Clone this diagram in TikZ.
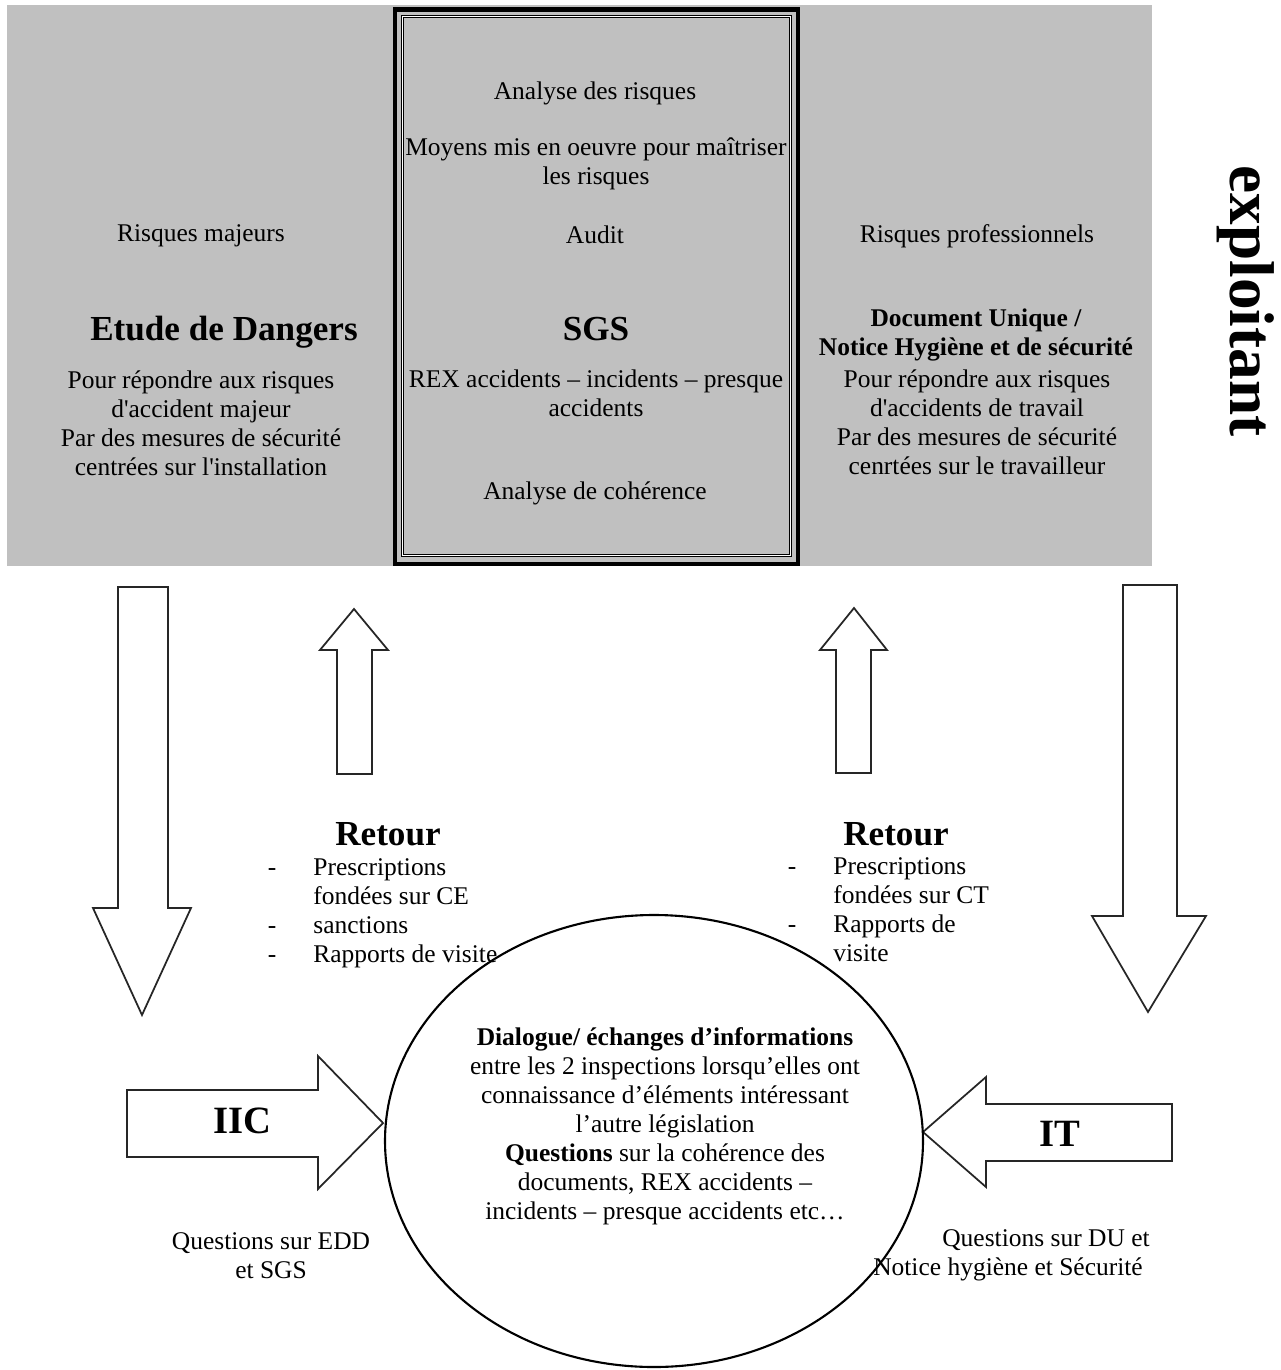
\documentclass[tikz,border=0pt]{standalone}
\usepackage{fontspec}
\setmainfont{Liberation Serif}[Ligatures=TeXOff]
\usepackage{tikz}
\usetikzlibrary{calc}
\tikzset{>=latex}
\definecolor{bandgray}{RGB}{192, 192, 192}
\tikzset{
  txt/.style = {inner sep=0pt, align=center, font=\fontsize{14.5}{16.5}\selectfont},
  bigtxt/.style = {inner sep=0pt, font=\fontsize{20}{24}\selectfont\bfseries},
  blockarrow/.style = {draw=black!85, line width=1pt, fill=white, line join=miter}
}

\begin{document}
\begin{tikzpicture}[x=0.02cm, y=-0.02cm]
\useasboundingbox (0,0) rectangle (1281,1370);
% bande exploitant
\fill[bandgray] (7,5) rectangle (1152,566);
\draw[line width = 2.8pt] (395,9.5) rectangle (798,564);
\draw[double, double distance = 1.1pt, line width = 0.45pt] (402.5,16.5) rectangle (790.5,555.5);

\node[txt] (rmaj) at (201,236) {Risques majeurs};
\node[bigtxt, anchor = base] (edd) at (224,340) {Etude de Dangers};
\node[txt] (eddtxt) at (201,423.5) {Pour répondre aux risques\\d'accident majeur\\Par des mesures de sécurité\\centrées sur l'installation};

\node[txt] (ar) at (595,93) {Analyse des risques};
\node[txt] (moy) at (596,164) {Moyens mis en oeuvre pour maîtriser\\les risques};
\node[txt] (audit) at (595,235) {Audit};
\node[bigtxt, anchor = base] (sgs) at (596,340) {SGS};
\node[txt] (rex) at (596,393) {REX accidents – incidents – presque\\accidents};
\node[txt] (coh) at (595,493) {Analyse de cohérence};

\node[txt] (rpro) at (977,236) {Risques professionnels};
\node[txt, font = \fontsize{14.5}{16.5}\selectfont\bfseries] (du) at (976,335) {Document Unique /\\Notice Hygiène et de sécurité};
\node[txt] (dutxt) at (977,422) {Pour répondre aux risques\\d'accidents de travail\\Par des mesures de sécurité\\cenrtées sur le travailleur};

\node[inner sep = 0pt, rotate = -90, font = \fontsize{36}{40}\selectfont\bfseries] (expl) at (1246,301) {exploitant};

% fleches
\draw[blockarrow] (118,587) -- (168,587) -- (168,908) -- (191,908) -- (142,1015) -- (93,908) -- (118,908) -- cycle;
\draw[blockarrow] (337,774) -- (372,774) -- (372,650) -- (388,650) -- (354,609) -- (320,650) -- (337,650) -- cycle;
\draw[blockarrow] (836,773) -- (871,773) -- (871,650) -- (887,650) -- (854,608) -- (820,650) -- (836,650) -- cycle;
\draw[blockarrow] (1123,585) -- (1177,585) -- (1177,916) -- (1206,916) -- (1148,1012) -- (1092,916) -- (1123,916) -- cycle;
\draw[blockarrow] (127,1090) -- (318,1090) -- (318,1056) -- (383,1123) -- (318,1189) -- (318,1157) -- (127,1157) -- cycle;
\draw[blockarrow] (1172,1104) -- (986,1104) -- (986,1077) -- (923,1132) -- (986,1187) -- (986,1161) -- (1172,1161) -- cycle;
\node[inner sep = 0pt, anchor = base, font = \fontsize{22}{26}\selectfont\bfseries] (iic) at (242,1133) {IIC};
\node[inner sep = 0pt, anchor = base, font = \fontsize{22}{26}\selectfont\bfseries] (it) at (1060,1146) {IT};

% retours
\node[bigtxt, anchor = base] (retl) at (388,845) {Retour};
\foreach \t / \y in {Prescriptions / 875, fondées sur CE / 904, sanctions / 933, Rapports de visite / 962}{
\node[txt, anchor = base west] (ce\y) at (313,\y) {\t};
}
\foreach \y in {875, 933, 962}{
\node[txt, anchor = base] (dl\y) at (272,\y) {-};
}
\node[bigtxt, anchor = base] (retr) at (896,845) {Retour};
\foreach \t / \y in {Prescriptions / 874, fondées sur CT / 903, Rapports de / 932, visite / 961}{
\node[txt, anchor = base west] (ct\y) at (833,\y) {\t};
}
\foreach \y in {874, 932}{
\node[txt, anchor = base] (dr\y) at (792,\y) {-};
}

% echanges
\draw[line width = 1.2pt] (654,1141) ellipse [x radius = 269, y radius = 226];
\node[txt] (dial) at (665,1126) {\textbf{Dialogue/ échanges d’informations}\\entre les 2 inspections lorsqu’elles ont\\connaissance d’éléments intéressant\\l’autre législation\\\textbf{Questions} sur la cohérence des\\documents, REX accidents –\\incidents – presque accidents etc…};

\node[txt] (qedd) at (271,1256) {Questions sur EDD\\et SGS};
\node[txt] (qdu) at (1046,1240) {Questions sur DU et};
\node[txt] (qnot) at (1008,1269) {Notice hygiène et Sécurité};
\end{tikzpicture}
\end{document}
